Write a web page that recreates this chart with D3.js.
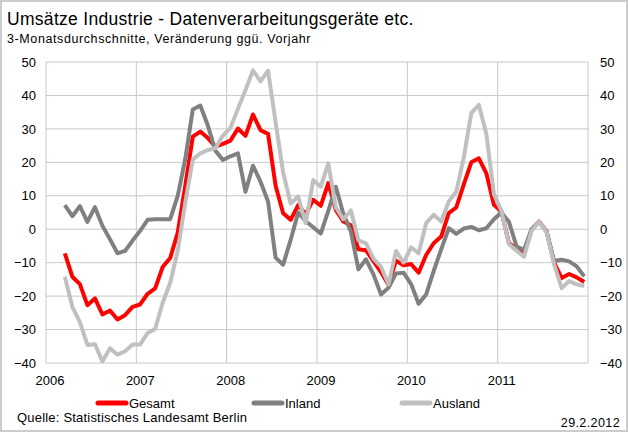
<!DOCTYPE html>
<html>
<head>
<meta charset="utf-8">
<script src="https://cdn.jsdelivr.net/npm/d3@7"></script>
<style>
  body { margin: 0; background: #fff; }
  svg text { font-family: "Liberation Sans", Arial, sans-serif; fill: #000; }
</style>
</head>
<body>
<div id="chart"></div>
<script>
// Monatswerte Maerz 2006 bis Dezember 2011 (3-Monatsdurchschnitte, % ggue. Vorjahr)
var years = ['2006', '2007', '2008', '2009', '2010', '2011'];
var firstMonth = 2; // Maerz 2006

var gesamt = [
  -7.2, -14.2, -16.4, -22.7, -20.7, -25.5, -24.3, -27, -25.7, -23.2,
  -22.5, -19.3, -17.7, -11.3, -8.6, -1, 13, 27.7, 29.2, 27.3, 24.7, 25.5,
  26.5, 30.1, 27.9, 34.3, 29.6, 28.5, 13, 4.8, 2.8, 7.2, 4.5, 8.8,
  7, 13.8, 5.8, 2.3, 1.2, -6, -6.3, -9.5, -12.8, -16.6, -9.4, -10.8,
  -10.4, -13, -7.7, -4.2, -2.2, 4.8, 6.5, 13.4, 20, 21.2, 16.7, 7.3,
  5.3, -4.2, -5.8, -7.2, -0.2, 2.3, -0.7, -10, -14.6, -13.4, -14.4, -15.8
];
var inland = [
  7.2, 3.9, 6.9, 2.2, 6.6, 1, -3, -7.2, -6.5, -3.4,
  -0.5, 2.8, 3, 3, 3, 10, 21, 35.8, 37, 31, 23.5, 20.7,
  21.8, 22.7, 11.2, 19, 14.2, 8.3, -8.5, -10.6, -3.2, 5, 2.4, 0.6,
  -1.3, 5.5, 12.7, 4.6, -0.7, -12, -9, -13.5, -19.5, -17.5, -13.2, -13,
  -16.4, -22.3, -19.5, -12.5, -6, 0.3, -1.4, 0.2, 0.7, -0.3, 0.3, 3,
  5, 2.2, -5.1, -6.2, 0, 2.2, -0.7, -9.5, -9.1, -9.6, -11.1, -14.1
];
var ausland = [
  -14.2, -23.2, -27.8, -34.6, -34.4, -39.5, -35.6, -37.5, -36.5, -34.5,
  -34.5, -31, -29.8, -22, -16, -6.5, 8, 20.8, 22.7, 23.7, 24.2, 28,
  30.3, 36, 41.6, 47.5, 44.2, 47.4, 32, 17, 7.7, 9.8, 1.8, 14.7,
  12.7, 19.7, 6.5, 3, 5.6, -3.3, -4.2, -8.8, -11.2, -16.4, -6.5, -10,
  -5.4, -7.2, 1.8, 4.3, 2.3, 8.3, 11.2, 21.5, 34.7, 37.2, 28.5, 10.5,
  5.5, -4.5, -6.4, -8.2, -0.5, 2.3, -0.9, -10.5, -17.6, -15.5, -16.5, -17
];
var yTicks = [50, 40, 30, 20, 10, 0, -10, -20, -30, -40];

var series = [
  { name: 'Gesamt', values: gesamt, color: '#ff0000' },
  { name: 'Inland', values: inland, color: '#808080' },
  { name: 'Ausland', values: ausland, color: '#c0c0c0' }
];

var width = 628, height = 432;
var plot = { left: 46, right: 588, top: 62, bottom: 363 };
var gridColor = '#c8c8c8';

var svg = d3.select('#chart').append('svg')
  .attr('width', width)
  .attr('height', height);

svg.append('rect')
  .attr('x', 1).attr('y', 1)
  .attr('width', width - 2).attr('height', height - 2)
  .attr('fill', '#fff')
  .attr('stroke', '#cccccc')
  .attr('stroke-width', 2);

// alle Monate 2006-2011 als Kategorien
var months = [];
years.forEach(function (yr) {
  for (var m = 0; m < 12; m++) months.push(yr + '-' + m);
});

var x = d3.scaleBand().domain(months).range([plot.left, plot.right]).padding(0);
var y = d3.scaleLinear().domain([-40, 50]).range([plot.bottom, plot.top]);
var xMid = function (i) { return x(months[i + firstMonth]) + x.bandwidth() / 2; };

// Gitternetz
var grid = svg.append('g').attr('class', 'grid');
grid.selectAll('line.h')
  .data(yTicks)
  .enter().append('line')
  .attr('class', 'h')
  .attr('x1', plot.left).attr('x2', plot.right)
  .attr('y1', function (d) { return y(d); })
  .attr('y2', function (d) { return y(d); })
  .attr('stroke', gridColor)
  .attr('stroke-width', 1);
grid.selectAll('line.v')
  .data(years.concat(['end']))
  .enter().append('line')
  .attr('class', 'v')
  .attr('x1', function (d) { return d === 'end' ? plot.right : x(d + '-0'); })
  .attr('x2', function (d) { return d === 'end' ? plot.right : x(d + '-0'); })
  .attr('y1', plot.top).attr('y2', plot.bottom)
  .attr('stroke', gridColor)
  .attr('stroke-width', 1);

// Achsen links und rechts
var axisLeft = d3.axisLeft(y).tickValues(yTicks).tickSize(0).tickPadding(10);
var axisRight = d3.axisRight(y).tickValues(yTicks).tickSize(0).tickPadding(12);
svg.append('g')
  .attr('transform', 'translate(' + plot.left + ',0)')
  .call(axisLeft)
  .call(function (g) { g.select('.domain').remove(); })
  .selectAll('text').style('font-size', '13px');
svg.append('g')
  .attr('transform', 'translate(' + plot.right + ',0)')
  .call(axisRight)
  .call(function (g) { g.select('.domain').remove(); })
  .selectAll('text').style('font-size', '13px').attr('text-anchor', 'start');

var xAxis = d3.axisBottom(x)
  .tickValues(years.map(function (yr) { return yr + '-0'; }))
  .tickFormat(function (d) { return d.slice(0, 4); })
  .tickSize(0).tickPadding(13);
svg.append('g')
  .attr('transform', 'translate(' + (4 - x.bandwidth() / 2) + ',' + plot.bottom + ')')
  .call(xAxis)
  .call(function (g) { g.select('.domain').remove(); })
  .selectAll('text').style('font-size', '13px');

// Linien
var line = d3.line()
  .x(function (d, i) { return xMid(i); })
  .y(function (d) { return y(d); });

svg.append('g').attr('class', 'lines')
  .selectAll('path')
  .data(series)
  .enter().append('path')
  .attr('d', function (d) { return line(d.values); })
  .attr('fill', 'none')
  .attr('stroke', function (d) { return d.color; })
  .attr('stroke-width', 4)
  .attr('stroke-linejoin', 'round');

// Legende
var legendX = [96, 252, 400];
var legend = svg.append('g').attr('class', 'legend')
  .selectAll('g')
  .data(series)
  .enter().append('g')
  .attr('transform', function (d, i) { return 'translate(' + legendX[i] + ',403)'; });
legend.append('line')
  .attr('x1', 2).attr('x2', 30)
  .attr('stroke', function (d) { return d.color; })
  .attr('stroke-width', 5)
  .attr('stroke-linecap', 'round');
legend.append('text')
  .attr('x', 33).attr('y', 4.5)
  .style('font-size', '13px')
  .text(function (d) { return d.name; });

// Titel und Fusszeile
svg.append('text')
  .attr('x', 7).attr('y', 25)
  .style('font-size', '17.5px')
  .style('letter-spacing', '0.3px')
  .text('Umsätze Industrie - Datenverarbeitungsgeräte etc.');
svg.append('text')
  .attr('x', 7).attr('y', 43)
  .style('font-size', '12.5px')
  .style('letter-spacing', '0.6px')
  .text('3-Monatsdurchschnitte, Veränderung ggü. Vorjahr');
svg.append('text')
  .attr('x', 17).attr('y', 422)
  .style('font-size', '13px')
  .style('letter-spacing', '0.2px')
  .text('Quelle: Statistisches Landesamt Berlin');
svg.append('text')
  .attr('x', 620).attr('y', 427)
  .attr('text-anchor', 'end')
  .style('font-size', '12.5px')
  .style('letter-spacing', '0.4px')
  .text('29.2.2012');
</script>
</body>
</html>
